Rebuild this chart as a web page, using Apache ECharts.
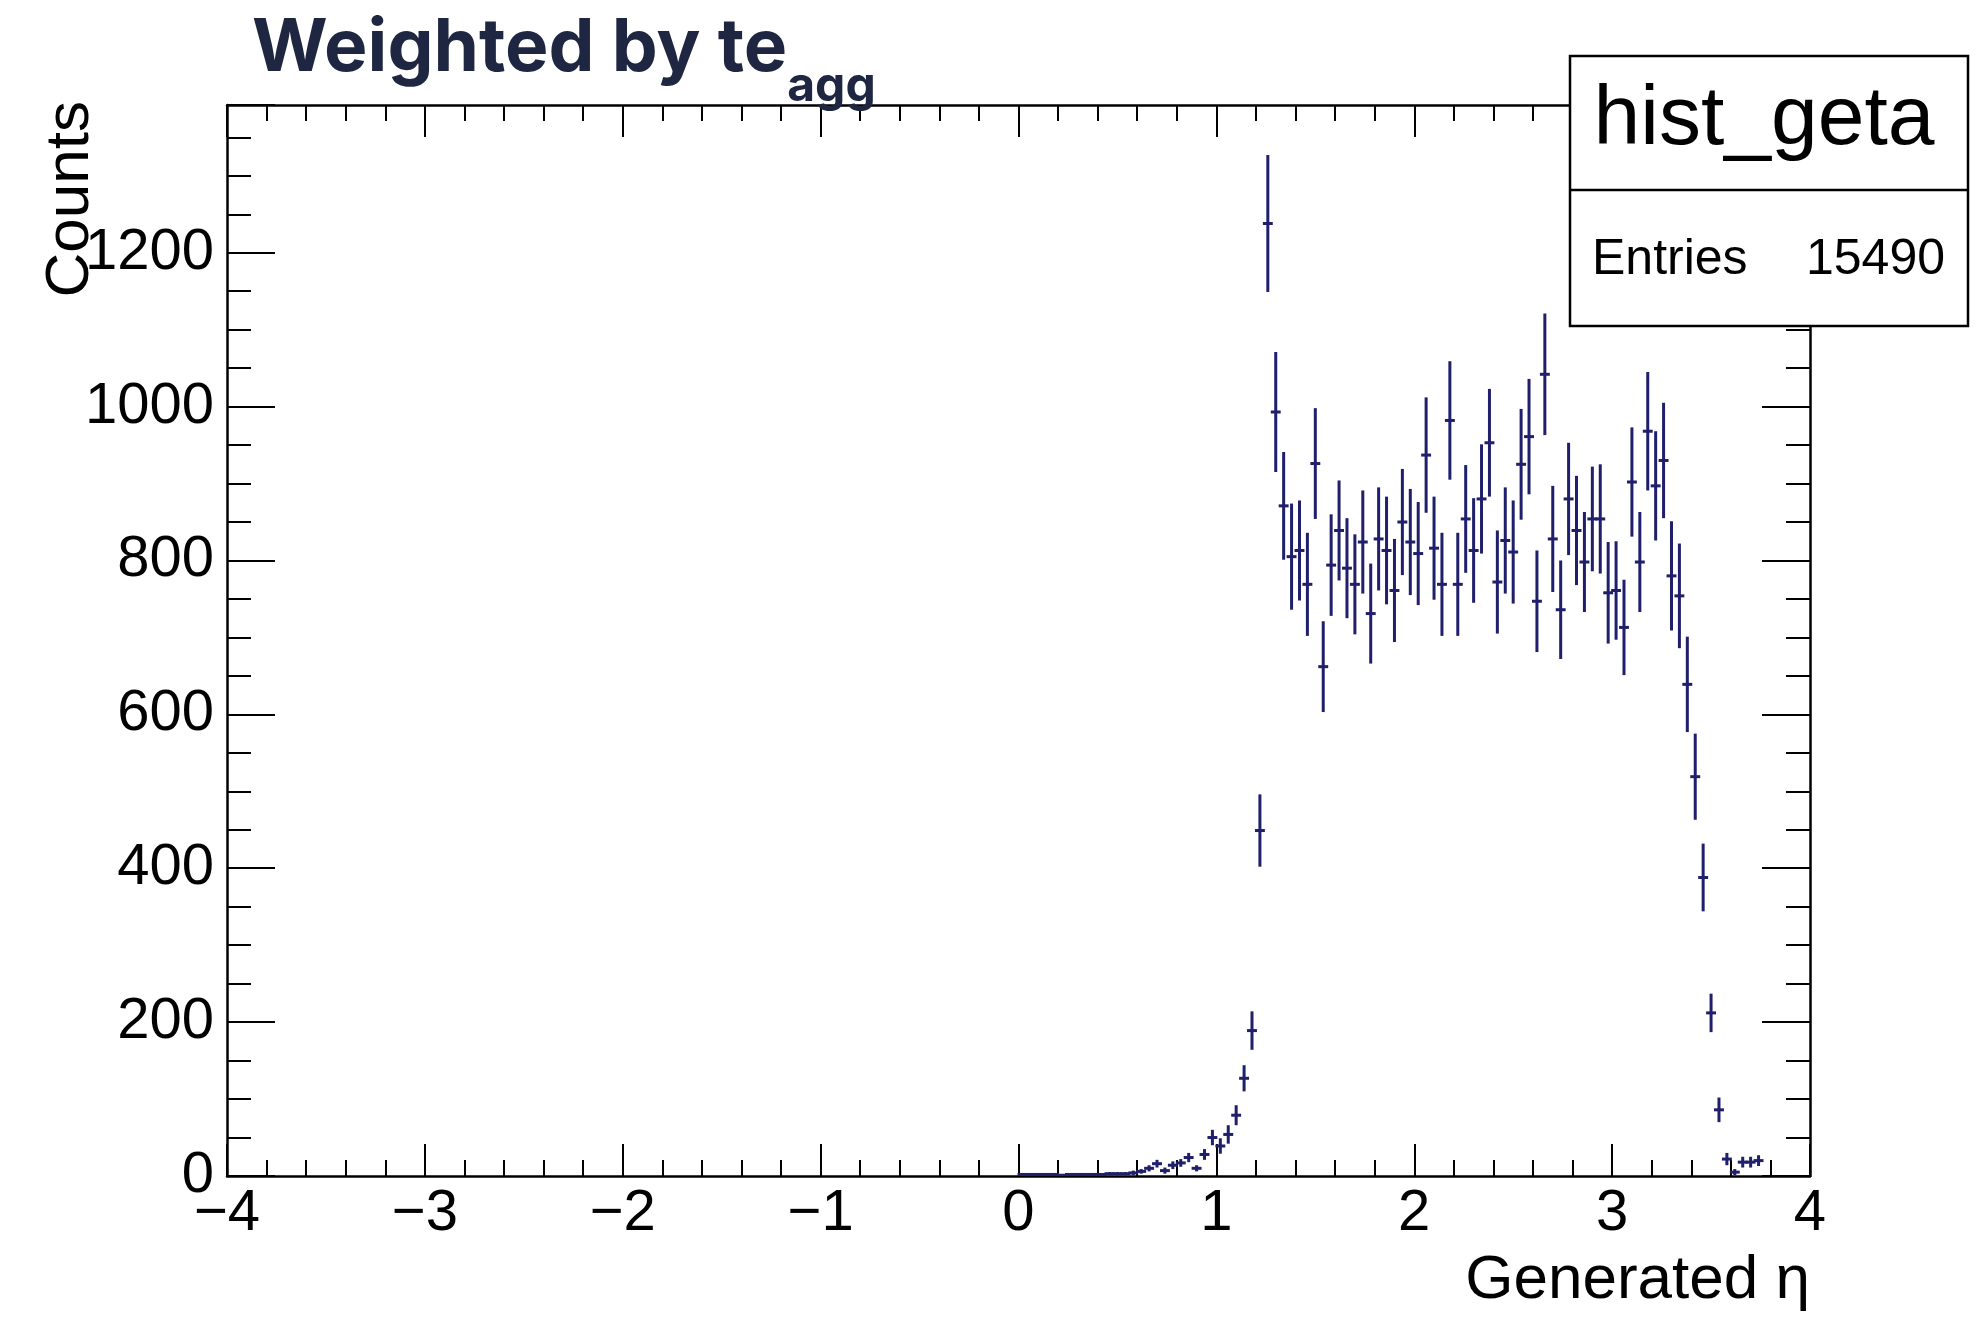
<!DOCTYPE html>
<html>
<head>
<meta charset="utf-8">
<script src="https://cdn.jsdelivr.net/npm/echarts@6/dist/echarts.min.js"></script>
<style>html,body{margin:0;padding:0;background:#fff}#c{width:1980px;height:1322px}</style>
</head>
<body>
<div id="c"></div>
<script>
// ---- data (bin centres of 0.04-wide bins, contents and errors) ----
const etaCenters = [
  0.02,0.06,0.10,0.14,0.18,0.22,0.26,0.30,0.34,0.38,
  0.42,0.46,0.50,0.54,0.58,0.62,0.66,0.70,0.74,0.78,
  0.82,0.86,0.90,0.94,0.98,1.02,1.06,1.10,1.14,1.18,
  1.22,1.26,1.30,1.34,1.38,1.42,1.46,1.50,1.54,1.58,
  1.62,1.66,1.70,1.74,1.78,1.82,1.86,1.90,1.94,1.98,
  2.02,2.06,2.10,2.14,2.18,2.22,2.26,2.30,2.34,2.38,
  2.42,2.46,2.50,2.54,2.58,2.62,2.66,2.70,2.74,2.78,
  2.82,2.86,2.90,2.94,2.98,3.02,3.06,3.10,3.14,3.18,
  3.22,3.26,3.30,3.34,3.38,3.42,3.46,3.50,3.54,3.58,
  3.62,3.66,3.70,3.74
];
const counts = [
  2,2,2,2,2,1,2,2,2,2,2,3,3,
  3,4,6,10,16,7,14,17,24,10,28,50,39,54,79,127,189,
  449,1238,993,871,805,813,769,926,662,794,
  839,790,769,824,731,828,813,761,850,824,
  809,937,816,769,982,769,854,813,880,953,
  772,826,811,925,961,747,1042,828,736,880,
  839,798,854,854,758,761,713,902,798,968,
  897,930,780,754,639,519,388,212,86,22,
  5,18,18,20
];
const errors = [
  1.5,1.5,1.5,1.5,1.5,1,1.5,1.5,1.5,1.5,1.5,2,2,
  2,3,3,4,5,4,5,5,6,4,7,10,10,12,13,17,25,
  47,89,78,70,69,65,67,72,59,66,
  65,65,65,67,65,67,70,67,69,69,
  67,75,67,67,77,67,70,68,71,70,
  67,69,67,72,75,66,79,69,64,73,
  71,65,68,71,66,64,62,71,65,77,
  71,75,71,68,62,56,44,25,16,8,
  4,7,7,7
];
const binWidth = 0.04;
const xRange = [-4, 4];
const yRange = [0, 1392];
const titleMain = 'Weighted by te';
const titleSub = 'agg';
const xTitle = 'Generated \u03b7';
const yTitle = 'Counts';
const statName = 'hist_geta';
const statLabel = 'Entries';
const statEntries = '15490';

// ---- chart ----
const FONT = '"Liberation Sans", Arial, Helvetica, sans-serif';
const AX = '#000000';
const COL = '#1f1f6b';
const data = etaCenters.map((x, i) => [x, counts[i], errors[i]]);

function fmtX(v) { return v < 0 ? '\u2212' + Math.abs(v) : String(v); }
function fmtY(v) { return String(v); }

function renderItem(params, api) {
  const x = api.value(0), y = api.value(1), e = api.value(2);
  const lo = Math.max(0, y - e), hi = y + e;
  const pT = api.coord([x, hi]), pB = api.coord([x, lo]);
  const pL = api.coord([x - binWidth / 2, y]), pR = api.coord([x + binWidth / 2, y]);
  return {
    type: 'group',
    children: [
      { type: 'line', shape: { x1: pT[0], y1: pT[1], x2: pB[0], y2: pB[1] }, style: { stroke: COL, lineWidth: 3 } },
      { type: 'line', shape: { x1: pL[0] - 1, y1: pL[1], x2: pR[0] + 1, y2: pR[1] }, style: { stroke: COL, lineWidth: 3 } }
    ]
  };
}

function xAxisDef(pos, showLabel) {
  return {
    type: 'value', min: xRange[0], max: xRange[1], interval: 1, position: pos,
    axisLine: { show: true, onZero: false, lineStyle: { color: AX, width: 2.5 } },
    axisTick: { show: true, inside: true, length: 32, lineStyle: { color: AX, width: 2 } },
    minorTick: { show: true, splitNumber: 5, length: 16, lineStyle: { color: AX, width: 2 } },
    axisLabel: { show: showLabel, margin: 9, color: '#000', fontFamily: FONT, fontSize: 58, formatter: fmtX },
    splitLine: { show: false }, minorSplitLine: { show: false }
  };
}
function yAxisDef(pos, showLabel) {
  return {
    type: 'value', min: yRange[0], max: yRange[1], interval: 200, position: pos,
    axisLine: { show: true, onZero: false, lineStyle: { color: AX, width: 2.5 } },
    axisTick: { show: true, inside: true, length: 48, lineStyle: { color: AX, width: 2 } },
    minorTick: { show: true, splitNumber: 4, length: 24, lineStyle: { color: AX, width: 2 } },
    axisLabel: { show: showLabel, margin: 13, color: '#000', fontFamily: FONT, fontSize: 58, showMaxLabel: false, formatter: fmtY },
    splitLine: { show: false }, minorSplitLine: { show: false }
  };
}

const chart = echarts.init(document.getElementById('c'), null, { renderer: 'canvas', width: 1980, height: 1322 });
chart.setOption({
  backgroundColor: '#ffffff',
  animation: false,
  grid: { left: 227, right: 170, top: 105, bottom: 146, containLabel: false, outerBoundsMode: 'none' },
  xAxis: [xAxisDef('bottom', true), xAxisDef('top', false)],
  yAxis: [yAxisDef('left', true), yAxisDef('right', false)],
  series: [{
    type: 'custom', name: statName, renderItem: renderItem, data: data,
    xAxisIndex: 0, yAxisIndex: 0, encode: { x: 0, y: 1 }, clip: true, z: 5
  }],
  graphic: [
    {
      type: 'text', x: 252, y: 38, z: 100,
      style: {
        text: '{m|' + titleMain + '}{s|' + titleSub + '}',
        verticalAlign: 'top', align: 'left',
        rich: {
          m: { fontSize: 73, fontWeight: 700, fontFamily: 'Inter, Lato, sans-serif', fill: '#1e2642', lineHeight: 73, padding: [0, 0, 25, 0], verticalAlign: 'bottom' },
          s: { fontSize: 48, fontWeight: 700, fontFamily: 'Inter, Lato, sans-serif', fill: '#1e2642', lineHeight: 48, verticalAlign: 'bottom' }
        }
      }
    },
    {
      type: 'text', x: 71, y: 101, rotation: Math.PI / 2, z: 100,
      style: { text: yTitle, fontSize: 62, fontFamily: FONT, fill: '#000', align: 'right', verticalAlign: 'middle' }
    },
    {
      type: 'text', x: 1810, y: 1281, z: 100,
      style: { text: xTitle, fontSize: 62, fontFamily: FONT, fill: '#000', align: 'right', verticalAlign: 'middle' }
    },
    {
      type: 'rect', z: 100,
      shape: { x: 1570, y: 56, width: 398, height: 270 },
      style: { fill: '#ffffff', stroke: '#000', lineWidth: 2.5 }
    },
    {
      type: 'line', z: 101,
      shape: { x1: 1570, y1: 190, x2: 1968, y2: 190 },
      style: { stroke: '#000', lineWidth: 2.5 }
    },
    {
      type: 'text', x: 1764, y: 121, z: 101,
      style: { text: statName, fontSize: 84, fontFamily: FONT, fill: '#000', align: 'center', verticalAlign: 'middle' }
    },
    {
      type: 'text', x: 1592, y: 260, z: 101,
      style: { text: statLabel, fontSize: 50, fontFamily: FONT, fill: '#000', align: 'left', verticalAlign: 'middle' }
    },
    {
      type: 'text', x: 1945, y: 260, z: 101,
      style: { text: statEntries, fontSize: 50, fontFamily: FONT, fill: '#000', align: 'right', verticalAlign: 'middle' }
    }
  ]
});
</script>
</body>
</html>
